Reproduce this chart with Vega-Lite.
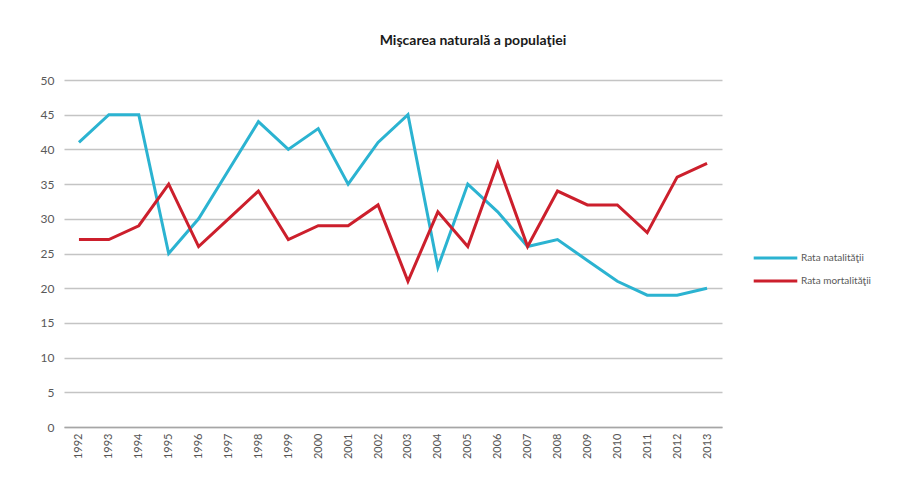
{
  "$schema": "https://vega.github.io/schema/vega-lite/v6.json",
  "autosize": "none",
  "width": 658,
  "height": 347,
  "padding": {"left": 64, "top": 80, "right": 195, "bottom": 60},
  "background": "white",
  "title": {
    "text": "Mişcarea naturală a populaţiei",
    "font": "Lato",
    "fontSize": 14,
    "fontWeight": "bold",
    "color": "#1a1a1a",
    "anchor": "middle",
    "dx": 80,
    "offset": 26
  },
  "data": {
    "values": [
      {"an": "1992", "serie": "Rata natalităţii", "valoare": 41},
      {"an": "1993", "serie": "Rata natalităţii", "valoare": 45},
      {"an": "1994", "serie": "Rata natalităţii", "valoare": 45},
      {"an": "1995", "serie": "Rata natalităţii", "valoare": 25},
      {"an": "1996", "serie": "Rata natalităţii", "valoare": 30},
      {"an": "1997", "serie": "Rata natalităţii", "valoare": 37},
      {"an": "1998", "serie": "Rata natalităţii", "valoare": 44},
      {"an": "1999", "serie": "Rata natalităţii", "valoare": 40},
      {"an": "2000", "serie": "Rata natalităţii", "valoare": 43},
      {"an": "2001", "serie": "Rata natalităţii", "valoare": 35},
      {"an": "2002", "serie": "Rata natalităţii", "valoare": 41},
      {"an": "2003", "serie": "Rata natalităţii", "valoare": 45},
      {"an": "2004", "serie": "Rata natalităţii", "valoare": 23},
      {"an": "2005", "serie": "Rata natalităţii", "valoare": 35},
      {"an": "2006", "serie": "Rata natalităţii", "valoare": 31},
      {"an": "2007", "serie": "Rata natalităţii", "valoare": 26},
      {"an": "2008", "serie": "Rata natalităţii", "valoare": 27},
      {"an": "2009", "serie": "Rata natalităţii", "valoare": 24},
      {"an": "2010", "serie": "Rata natalităţii", "valoare": 21},
      {"an": "2011", "serie": "Rata natalităţii", "valoare": 19},
      {"an": "2012", "serie": "Rata natalităţii", "valoare": 19},
      {"an": "2013", "serie": "Rata natalităţii", "valoare": 20},
      {"an": "1992", "serie": "Rata mortalităţii", "valoare": 27},
      {"an": "1993", "serie": "Rata mortalităţii", "valoare": 27},
      {"an": "1994", "serie": "Rata mortalităţii", "valoare": 29},
      {"an": "1995", "serie": "Rata mortalităţii", "valoare": 35},
      {"an": "1996", "serie": "Rata mortalităţii", "valoare": 26},
      {"an": "1997", "serie": "Rata mortalităţii", "valoare": 30},
      {"an": "1998", "serie": "Rata mortalităţii", "valoare": 34},
      {"an": "1999", "serie": "Rata mortalităţii", "valoare": 27},
      {"an": "2000", "serie": "Rata mortalităţii", "valoare": 29},
      {"an": "2001", "serie": "Rata mortalităţii", "valoare": 29},
      {"an": "2002", "serie": "Rata mortalităţii", "valoare": 32},
      {"an": "2003", "serie": "Rata mortalităţii", "valoare": 21},
      {"an": "2004", "serie": "Rata mortalităţii", "valoare": 31},
      {"an": "2005", "serie": "Rata mortalităţii", "valoare": 26},
      {"an": "2006", "serie": "Rata mortalităţii", "valoare": 38},
      {"an": "2007", "serie": "Rata mortalităţii", "valoare": 26},
      {"an": "2008", "serie": "Rata mortalităţii", "valoare": 34},
      {"an": "2009", "serie": "Rata mortalităţii", "valoare": 32},
      {"an": "2010", "serie": "Rata mortalităţii", "valoare": 32},
      {"an": "2011", "serie": "Rata mortalităţii", "valoare": 28},
      {"an": "2012", "serie": "Rata mortalităţii", "valoare": 36},
      {"an": "2013", "serie": "Rata mortalităţii", "valoare": 38}
    ]
  },
  "mark": {"type": "line", "strokeWidth": 3},
  "encoding": {
    "x": {
      "field": "an",
      "type": "ordinal",
      "scale": {"type": "point", "padding": 0.5},
      "axis": {
        "title": null,
        "labelAngle": -90,
        "labelFont": "Lato",
        "labelFontSize": 11,
        "labelColor": "#555555",
        "labelPadding": 6,
        "ticks": false,
        "domainColor": "#a6a6a6",
        "domainWidth": 1.5,
        "grid": false
      }
    },
    "y": {
      "field": "valoare",
      "type": "quantitative",
      "scale": {"domain": [0, 50], "nice": false},
      "axis": {
        "title": null,
        "values": [0, 5, 10, 15, 20, 25, 30, 35, 40, 45, 50],
        "labelFont": "Lato",
        "labelFontSize": 12,
        "labelColor": "#595959",
        "labelPadding": 10,
        "ticks": false,
        "domain": false,
        "grid": true,
        "gridColor": "#c4c4c4",
        "gridWidth": 1.3
      }
    },
    "color": {
      "field": "serie",
      "type": "nominal",
      "scale": {
        "domain": ["Rata natalităţii", "Rata mortalităţii"],
        "range": ["#2bb3d1", "#cc1f2c"]
      },
      "legend": {
        "title": null,
        "orient": "none",
        "legendX": 688,
        "legendY": 171,
        "symbolType": "stroke",
        "symbolSize": 1900,
        "symbolStrokeWidth": 3,
        "clipHeight": 14,
        "labelFont": "Lato",
        "labelFontSize": 10,
        "labelColor": "#595959",
        "labelOffset": 2,
        "rowPadding": 9
      }
    }
  },
  "config": {
    "view": {"stroke": null}
  }
}
